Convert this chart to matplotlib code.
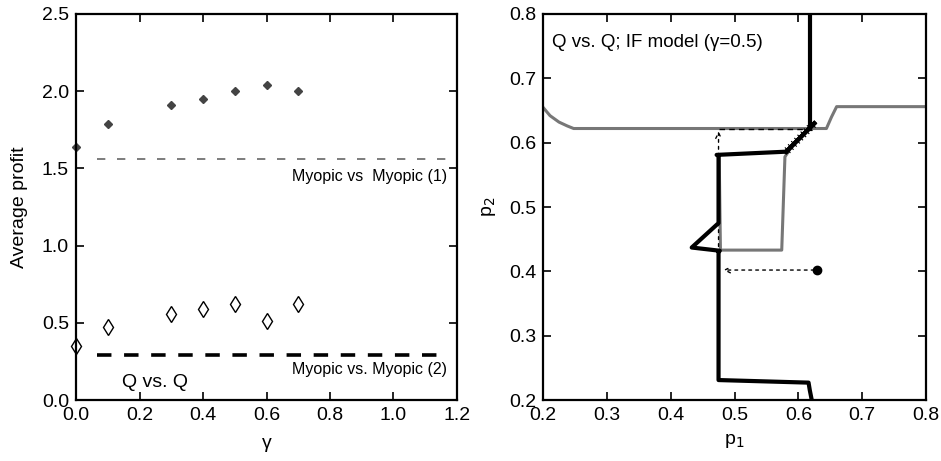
import matplotlib.pyplot as plt
import matplotlib.patheffects as pe

plt.rcParams["font.family"] = ["Liberation Sans", "DejaVu Sans"]

# left panel: average profit vs gamma
gamma = [0.0, 0.1, 0.3, 0.4, 0.5, 0.6, 0.7]
profit_q1 = [1.64, 1.79, 1.91, 1.95, 2.00, 2.04, 2.00]
profit_q2 = [0.35, 0.47, 0.56, 0.59, 0.62, 0.51, 0.62]
myopic1 = 1.56
myopic2 = 0.29
line_span = [0.065, 1.17]

# right panel: reaction curves and trajectory
gray_p1 = [0.2, 0.211, 0.225, 0.238, 0.248, 0.26, 0.644, 0.652, 0.66, 0.8]
gray_p2 = [0.655, 0.642, 0.632, 0.626, 0.622, 0.622, 0.622, 0.64, 0.656, 0.656]
box_p1 = [0.476, 0.478, 0.574, 0.579, 0.587]
box_p2 = [0.58, 0.433, 0.433, 0.578, 0.59]
black_top_p1 = [0.618, 0.618]
black_top_p2 = [0.8, 0.622]
hatch_p1 = [0.625, 0.605, 0.581]
hatch_p2 = [0.63, 0.61, 0.586]
black_p1 = [0.581, 0.472, 0.475, 0.475, 0.433, 0.477, 0.475, 0.475, 0.616, 0.618, 0.621]
black_p2 = [0.586, 0.581, 0.58, 0.475, 0.437, 0.432, 0.43, 0.231, 0.227, 0.215, 0.2]
start = (0.629, 0.402)
arrow1_end = (0.478, 0.402)
arrow2_start = (0.475, 0.402)
arrow2_end = (0.475, 0.622)
dash_p1 = [0.475, 0.618]
dash_p2 = [0.622, 0.622]

fig = plt.figure(figsize=(9.41, 4.61), dpi=100)
ax1 = fig.add_axes([76 / 941, 61 / 461, 381 / 941, 386 / 461])
ax2 = fig.add_axes([543 / 941, 61 / 461, 383 / 941, 386 / 461])

for ax in (ax1, ax2):
    for s in ax.spines.values():
        s.set_linewidth(1.6)
    ax.tick_params(direction="in", length=6, width=1.2, top=True, right=True,
                   labelsize=14, pad=5)

ax1.plot(gamma, profit_q1, linestyle="none", marker="D", markersize=4,
         color="#444444", clip_on=False)
ax1.plot(gamma, profit_q2, linestyle="none", marker="d", markersize=8,
         markerfacecolor="white", markeredgecolor="black", markeredgewidth=1.0,
         clip_on=False)
ax1.plot(line_span, [myopic1, myopic1], linestyle=(0, (5, 7)), color="#666666", lw=1.2)
ax1.plot(line_span, [myopic2, myopic2], linestyle=(0, (4, 3.5)), color="black", lw=2.6)
ax1.text(1.17, 1.45, "Myopic vs  Myopic (1)", ha="right", va="center", fontsize=11.5)
ax1.text(1.17, 0.2, "Myopic vs. Myopic (2)", ha="right", va="center", fontsize=11.5)
ax1.text(0.145, 0.115, "Q vs. Q", ha="left", va="center", fontsize=14)
ax1.set_xlim(0, 1.2)
ax1.set_ylim(0, 2.5)
ax1.set_xticks([0, 0.2, 0.4, 0.6, 0.8, 1.0, 1.2])
ax1.set_yticks([0, 0.5, 1.0, 1.5, 2.0, 2.5])
ax1.xaxis.set_major_formatter(plt.FormatStrFormatter("%.1f"))
ax1.yaxis.set_major_formatter(plt.FormatStrFormatter("%.1f"))
ax1.set_xlabel("γ", fontsize=14, labelpad=8)
ax1.set_ylabel("Average profit", fontsize=14, labelpad=10)

ax2.plot(gray_p1, gray_p2, color="#777777", lw=2.2)
ax2.plot(box_p1, box_p2, color="#777777", lw=2.2)
ax2.plot(black_top_p1, black_top_p2, color="black", lw=3)
ax2.plot(black_p1, black_p2, color="black", lw=3)
ax2.plot(hatch_p1, hatch_p2, color="black", lw=3,
         path_effects=[pe.withTickedStroke(angle=-90, spacing=3, length=0.8, linewidth=0.8),
                       pe.withTickedStroke(angle=90, spacing=3, length=0.8, linewidth=0.8),
                       pe.Normal()])
ax2.plot(dash_p1, dash_p2, color="black", lw=1.0, linestyle=(0, (4, 3)))
ax2.annotate("", xy=arrow1_end, xytext=start,
             arrowprops=dict(arrowstyle="->", lw=1.0, linestyle=(0, (2, 3)), color="black"))
ax2.annotate("", xy=arrow2_end, xytext=arrow2_start,
             arrowprops=dict(arrowstyle="->", lw=1.0, linestyle=(0, (2, 3)), color="black"))
ax2.plot([start[0]], [start[1]], marker="o", markersize=6, color="black")
ax2.text(0.214, 0.755, "Q vs. Q; IF model (γ=0.5)", ha="left", va="center", fontsize=13.5)
ax2.set_xlim(0.2, 0.8)
ax2.set_ylim(0.2, 0.8)
ax2.set_xticks([0.2, 0.3, 0.4, 0.5, 0.6, 0.7, 0.8])
ax2.set_yticks([0.2, 0.3, 0.4, 0.5, 0.6, 0.7, 0.8])
ax2.set_xlabel("p$_1$", fontsize=14, labelpad=6)
ax2.set_ylabel("p$_2$", fontsize=14, labelpad=8)

fig.savefig("out.png", dpi=100)
